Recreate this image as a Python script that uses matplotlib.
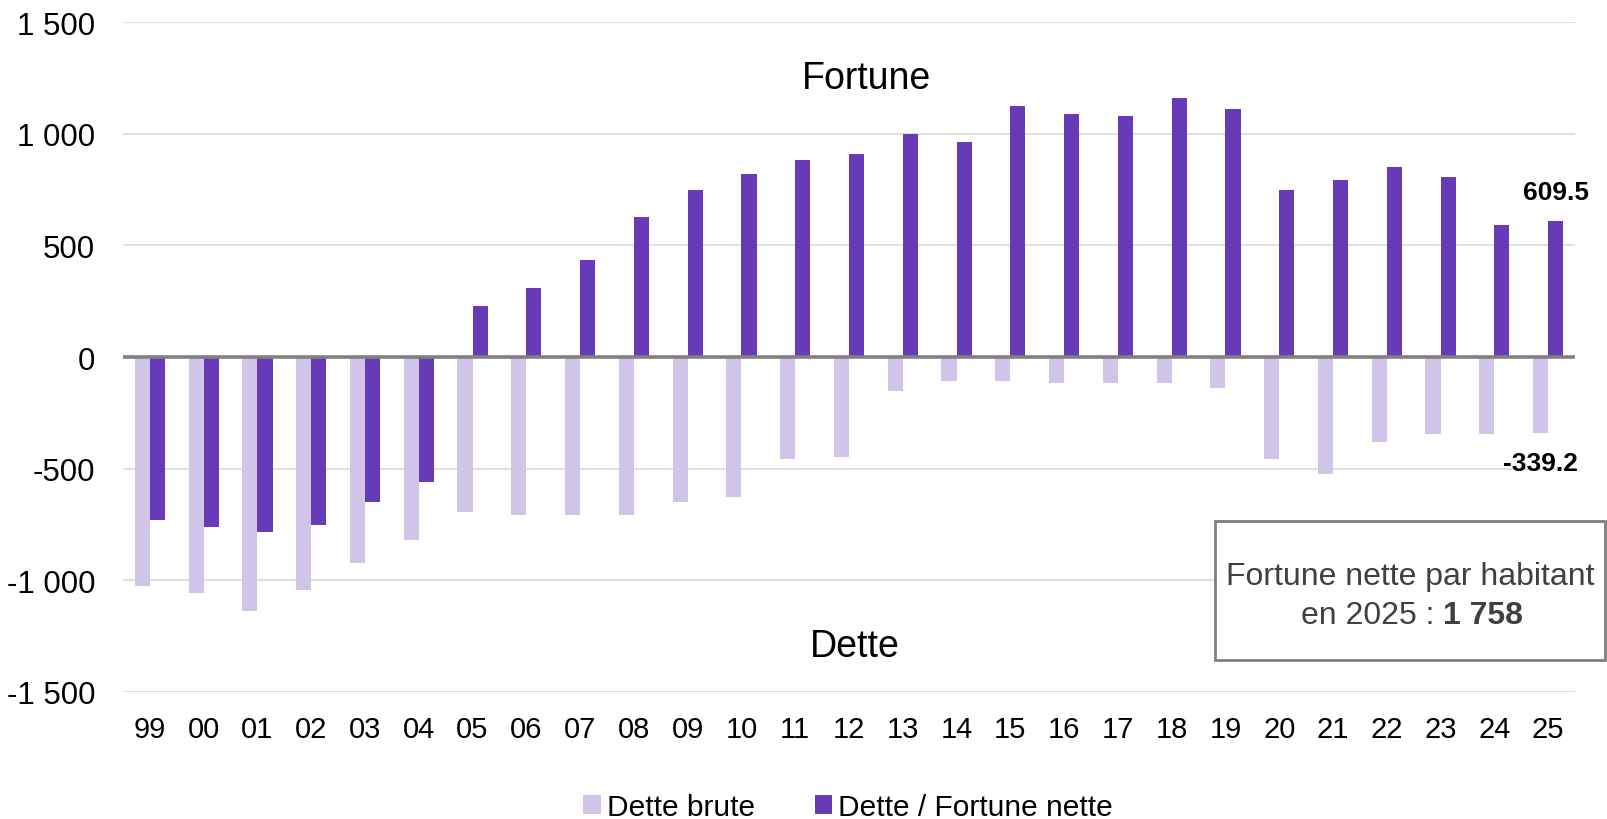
import matplotlib
matplotlib.use("Agg")
import matplotlib.pyplot as plt
import numpy as np
from matplotlib.patches import Rectangle, Patch

plt.rcParams['font.family'] = ['Liberation Sans', 'DejaVu Sans']

years = ["99", "00", "01", "02", "03", "04", "05", "06", "07", "08", "09", "10", "11",
         "12", "13", "14", "15", "16", "17", "18", "19", "20", "21", "22", "23", "24", "25"]
dette_brute = [-1025, -1058, -1137, -1046, -923, -821, -695, -709, -708, -708, -650, -626, -456,
               -447, -151, -106, -106, -118, -118, -118, -140, -457, -526, -379, -345, -345, -339.2]
fortune_nette = [-730, -764, -786, -752, -650, -561, 230, 309, 434, 627, 750, 818, 885,
                 909, 1001, 965, 1124, 1091, 1079, 1160, 1113, 750, 795, 852, 807, 593, 609.5]
ytick_values = [-1500, -1000, -500, 0, 500, 1000, 1500]
ytick_labels = ["-1 500", "-1 000", "-500", "0", "500", "1 000", "1 500"]
series_names = ["Dette brute", "Dette / Fortune nette"]
colors = ["#D1C4E9", "#673AB7"]

W, H = 1608, 820
fig = plt.figure(figsize=(W / 100, H / 100), dpi=100)
ax = fig.add_axes([123 / W, 1 - 692.7 / H, (1575 - 123) / W, (692.7 - 23.3) / H])

x = np.arange(len(years))
bw = 0.28
ax.bar(x - bw / 2, dette_brute, width=bw, color=colors[0], zorder=3)
ax.bar(x + bw / 2, fortune_nette, width=bw, color=colors[1], zorder=3)

ax.set_xlim(-0.5, len(years) - 0.5)
ax.set_ylim(-1500, 1500)
ax.set_yticks(ytick_values)
ax.set_yticklabels(ytick_labels)
ax.set_xticks(x)
ax.set_xticklabels(years)
ax.tick_params(axis='both', length=0, colors='black')
ax.tick_params(axis='y', pad=20, labelsize=22.5)
ax.tick_params(axis='x', pad=17, labelsize=21)
for s in ax.spines.values():
    s.set_visible(False)
ax.grid(axis='y', color='#D9D9D9', linewidth=1.2, zorder=0)
ax.axhline(0, color='#808080', linewidth=2.6, zorder=4)

# data labels on last year
ax.annotate(f"{fortune_nette[-1]}", (x[-1] + bw / 2, fortune_nette[-1]), xytext=(0, 21),
            textcoords='offset points', ha='center', va='center', fontsize=19,
            fontweight='bold')
ax.annotate(f"{dette_brute[-1]}", (x[-1] - bw / 2, dette_brute[-1]), xytext=(0, -22),
            textcoords='offset points', ha='center', va='center', fontsize=19,
            fontweight='bold')

ax.text(0.512, 1250, "Fortune", transform=ax.get_yaxis_transform(), ha='center',
        va='center', fontsize=27)
ax.text(0.504, -1293, "Dette", transform=ax.get_yaxis_transform(), ha='center',
        va='center', fontsize=27)

# info box
box = Rectangle((1215 / W, 1 - 661 / H), (1605 - 1215) / W, (661 - 522) / H,
                transform=fig.transFigure, fill=True, facecolor='white',
                edgecolor='#7F7F7F', linewidth=2, zorder=5)
fig.patches.append(box)
fig.text(1410 / W, 1 - 577 / H, "Fortune nette par habitant", ha='center', va='center',
         fontsize=23, color='#404040', zorder=6)
fig.text(1443 / W, 1 - 616 / H, "en 2025 : ", ha='right', va='center',
         fontsize=23, color='#404040', zorder=6)
fig.text(1443 / W, 1 - 616 / H, "1 758", ha='left', va='center',
         fontsize=23, color='#404040', fontweight='bold', zorder=6)

handles = [Patch(facecolor=c, label=n) for c, n in zip(colors, series_names)]
fig.legend(handles=handles, loc='center', bbox_to_anchor=(848 / W, 1 - 808 / H), ncol=2,
           frameon=False, fontsize=21.5, handlelength=0.6, handleheight=0.6,
           handletextpad=0.2, columnspacing=2.0)

fig.savefig("out.png", dpi=100)
